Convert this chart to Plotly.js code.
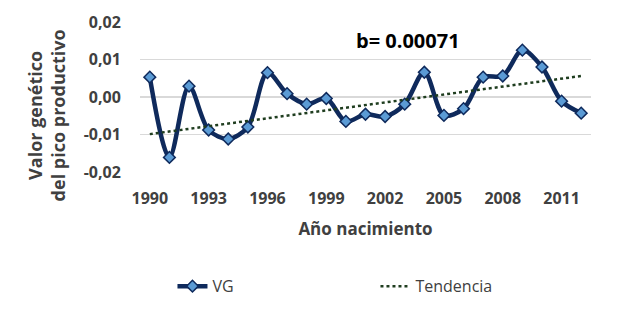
<!DOCTYPE html>
<html>
<head>
<meta charset="utf-8">
<script src="https://cdn.plot.ly/plotly-3.0.1.min.js"></script>
<style>html,body{margin:0;padding:0;background:#fff}#chart{width:620px;height:313px}</style>
</head>
<body>
<div id="chart"></div>
<script>
var years = [1990,1991,1992,1993,1994,1995,1996,1997,1998,1999,2000,2001,2002,2003,2004,2005,2006,2007,2008,2009,2010,2011,2012];
var vg = [0.0053,-0.0161,0.0029,-0.0088,-0.0112,-0.0080,0.0065,0.0009,-0.0019,-0.0004,-0.0065,-0.0046,-0.0052,-0.0019,0.0066,-0.0049,-0.0031,0.0053,0.0056,0.0125,0.0080,-0.0011,-0.0043];
var trendYears = [1990, 2012];
var trendValues = [-0.0099, 0.0056];
var tickYears = [1990,1993,1996,1999,2002,2005,2008,2011];
var tickValuesY = [-0.02,-0.01,0,0.01,0.02];
var tickTextY = ["-0,02","-0,01","0,00","0,01","0,02"];
var slopeLabel = "b= 0.00071";
var yTitle = "Valor genético<br>del pico productivo";
var xTitle = "Año nacimiento";

var font = "Open Sans, Noto Sans, Liberation Sans, sans-serif";
var traces = [
  {x: years, y: vg, name: "VG", type: "scatter", mode: "lines+markers",
   line: {color: "#0f2a5c", width: 4.5, shape: "spline", smoothing: 0.9},
   marker: {symbol: "diamond", size: 9, color: "#5b9bd5", line: {color: "#0f2a5c", width: 1.5}}},
  {x: trendYears, y: trendValues, name: "Tendencia", type: "scatter", mode: "lines",
   line: {color: "#1f3d1f", width: 2.5, dash: "dot"}}
];
var layout = {
  width: 620, height: 313,
  margin: {l: 140, r: 29, t: 22, b: 140},
  paper_bgcolor: "#fff", plot_bgcolor: "#fff",
  font: {family: font, color: "#404040"},
  showlegend: true,
  legend: {orientation: "h", x: 0.072, xanchor: "left", y: -0.75, yanchor: "middle",
           entrywidth: 158, entrywidthmode: "pixels",
           font: {family: font, size: 16, color: "#404040"}},
  xaxis: {range: [1989.5, 2012.5], tickmode: "array", tickvals: tickYears,
          ticktext: tickYears.map(String), showgrid: false, zeroline: false, showline: false,
          tickfont: {family: font, size: 16, color: "#404040", weight: "bold"},
          ticks: "outside", ticklen: 12, tickcolor: "rgba(0,0,0,0)",
          title: {text: "<b>" + xTitle + "</b>", font: {family: font, size: 17, color: "#404040"}, standoff: 14}},
  yaxis: {range: [-0.02, 0.02], tickmode: "array", tickvals: tickValuesY, ticktext: tickTextY,
          showgrid: true, gridcolor: "#d9d9d9", gridwidth: 1.5, zeroline: false, showline: false,
          tickfont: {family: font, size: 16, color: "#404040", weight: "bold"},
          ticks: "outside", ticklen: 15, tickcolor: "rgba(0,0,0,0)"},
  annotations: [
    {text: "<b>" + slopeLabel + "</b>", xref: "paper", yref: "paper",
     x: 0.475, y: 0.875, xanchor: "left", yanchor: "middle", showarrow: false,
     font: {family: font, size: 20, color: "#000"}},
    {text: "<b>" + yTitle + "</b>", xref: "paper", yref: "paper", textangle: -90,
     x: (46 - 140) / 451, y: (173 - 116) / 151, xanchor: "center", yanchor: "middle", showarrow: false,
     font: {family: font, size: 18, color: "#404040"}}
  ]
};
Plotly.newPlot("chart", traces, layout, {displayModeBar: false, staticPlot: true});
</script>
</body>
</html>
